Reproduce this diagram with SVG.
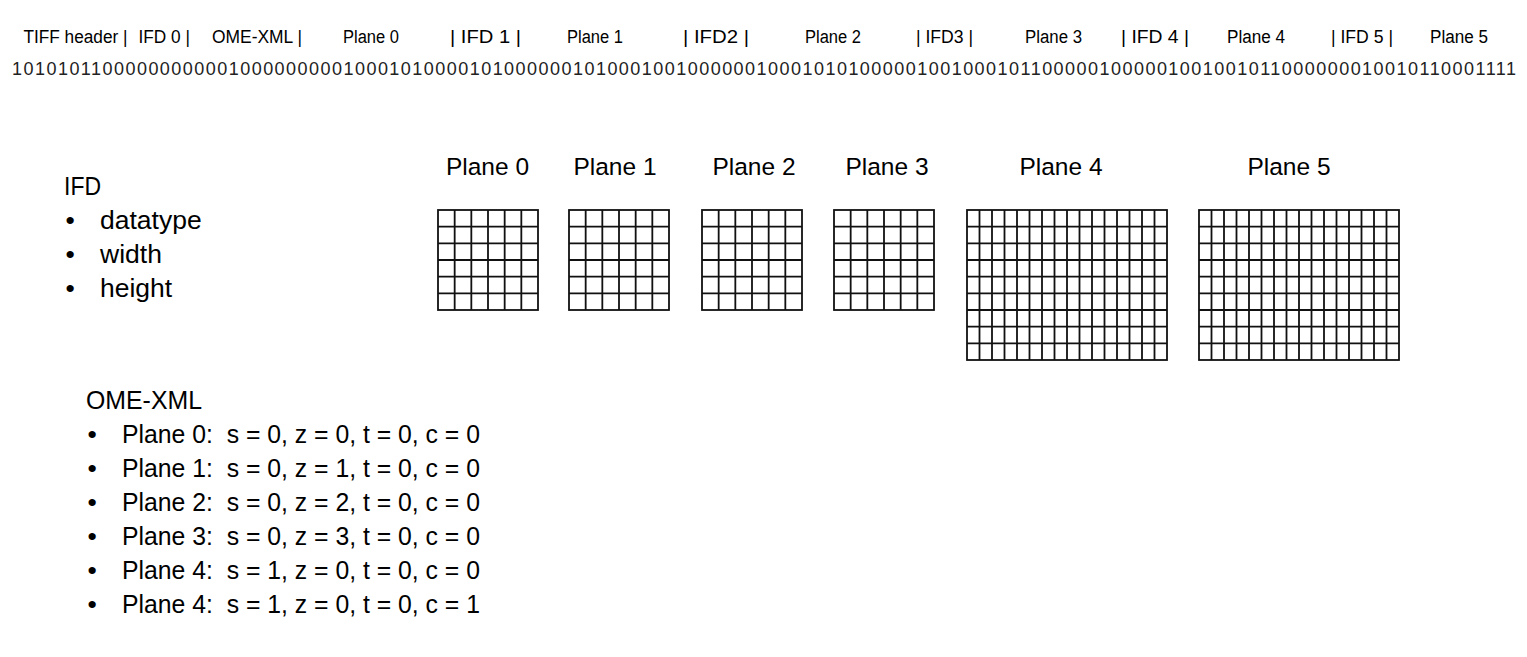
<svg xmlns="http://www.w3.org/2000/svg" xmlns:xlink="http://www.w3.org/1999/xlink" width="1527" height="657" viewBox="0 0 1527 657">
<style>
text{font-family:"Liberation Sans",Arial,sans-serif;fill:#000}
.hd{font-size:18px}
.bin{font-size:18px;fill:#222}
.title{font-size:24.5px;text-anchor:middle}
.lst{font-size:26.5px}
.grid{fill:none;stroke:#111;stroke-width:1.8}
</style>
<defs>
<g id="g6" class="grid">
<rect x="0" y="0" width="100" height="100"/>
<path d="M16.67 0V100M33.33 0V100M50 0V100M66.67 0V100M83.33 0V100M0 16.67H100M0 33.33H100M0 50H100M0 66.67H100M0 83.33H100"/>
</g>
<g id="g16" class="grid">
<rect x="0" y="0" width="200" height="150"/>
<path d="M12.5 0V150M25 0V150M37.5 0V150M50 0V150M62.5 0V150M75 0V150M87.5 0V150M100 0V150M112.5 0V150M125 0V150M137.5 0V150M150 0V150M162.5 0V150M175 0V150M187.5 0V150M0 16.67H200M0 33.33H200M0 50H200M0 66.67H200M0 83.33H200M0 100H200M0 116.67H200M0 133.33H200"/>
</g>
</defs>
<rect width="1527" height="657" fill="#fff"/>
<g id="header">
<text class="hd" x="23.5" y="43" textLength="104" lengthAdjust="spacingAndGlyphs">TIFF header |</text>
<text class="hd" x="138.5" y="43" textLength="51.5" lengthAdjust="spacingAndGlyphs">IFD 0 |</text>
<text class="hd" x="212" y="43" textLength="90" lengthAdjust="spacingAndGlyphs">OME-XML |</text>
<text class="hd" x="343" y="43" textLength="56" lengthAdjust="spacingAndGlyphs">Plane 0</text>
<text class="hd" x="450" y="43" textLength="71" lengthAdjust="spacingAndGlyphs">| IFD 1 |</text>
<text class="hd" x="567" y="43" textLength="56" lengthAdjust="spacingAndGlyphs">Plane 1</text>
<text class="hd" x="683" y="43" textLength="66" lengthAdjust="spacingAndGlyphs">| IFD2 |</text>
<text class="hd" x="805" y="43" textLength="56" lengthAdjust="spacingAndGlyphs">Plane 2</text>
<text class="hd" x="916" y="43" textLength="57" lengthAdjust="spacingAndGlyphs">| IFD3 |</text>
<text class="hd" x="1025" y="43" textLength="57" lengthAdjust="spacingAndGlyphs">Plane 3</text>
<text class="hd" x="1121" y="43" textLength="68" lengthAdjust="spacingAndGlyphs">| IFD 4 |</text>
<text class="hd" x="1227" y="43" textLength="58" lengthAdjust="spacingAndGlyphs">Plane 4</text>
<text class="hd" x="1331" y="43" textLength="62" lengthAdjust="spacingAndGlyphs">| IFD 5 |</text>
<text class="hd" x="1430" y="43" textLength="58" lengthAdjust="spacingAndGlyphs">Plane 5</text>
</g>
<g id="binary">
<text class="bin" x="12" y="75" textLength="1504" lengthAdjust="spacing">101010110000000000010000000001000101000010100000010100010010000001000101010000010010001011000001000001001001011000000010010110001111</text>
</g>
<g id="ifd-list">
<text class="lst" x="64" y="195" textLength="37" lengthAdjust="spacingAndGlyphs">IFD</text>
<text class="lst" x="65.5" y="229">•</text>
<text class="lst" x="100" y="229">datatype</text>
<text class="lst" x="65.5" y="263">•</text>
<text class="lst" x="100" y="263">width</text>
<text class="lst" x="65.5" y="297">•</text>
<text class="lst" x="100" y="297">height</text>
</g>
<g id="ome-list">
<text class="lst" x="86" y="409" textLength="116" lengthAdjust="spacingAndGlyphs">OME-XML</text>
<text class="lst" x="87.5" y="443">•</text>
<text class="lst" x="122" y="443" textLength="358" lengthAdjust="spacingAndGlyphs" xml:space="preserve">Plane 0:  s = 0, z = 0, t = 0, c = 0</text>
<text class="lst" x="87.5" y="477">•</text>
<text class="lst" x="122" y="477" textLength="358" lengthAdjust="spacingAndGlyphs" xml:space="preserve">Plane 1:  s = 0, z = 1, t = 0, c = 0</text>
<text class="lst" x="87.5" y="511">•</text>
<text class="lst" x="122" y="511" textLength="358" lengthAdjust="spacingAndGlyphs" xml:space="preserve">Plane 2:  s = 0, z = 2, t = 0, c = 0</text>
<text class="lst" x="87.5" y="545">•</text>
<text class="lst" x="122" y="545" textLength="358" lengthAdjust="spacingAndGlyphs" xml:space="preserve">Plane 3:  s = 0, z = 3, t = 0, c = 0</text>
<text class="lst" x="87.5" y="579">•</text>
<text class="lst" x="122" y="579" textLength="358" lengthAdjust="spacingAndGlyphs" xml:space="preserve">Plane 4:  s = 1, z = 0, t = 0, c = 0</text>
<text class="lst" x="87.5" y="613">•</text>
<text class="lst" x="122" y="613" textLength="358" lengthAdjust="spacingAndGlyphs" xml:space="preserve">Plane 4:  s = 1, z = 0, t = 0, c = 1</text>
</g>
<g id="plane0">
<text class="title" x="487.5" y="175">Plane 0</text>
<use xlink:href="#g6" href="#g6" x="438" y="210"/>
</g>
<g id="plane1">
<text class="title" x="615" y="175">Plane 1</text>
<use xlink:href="#g6" href="#g6" x="569" y="210"/>
</g>
<g id="plane2">
<text class="title" x="754" y="175">Plane 2</text>
<use xlink:href="#g6" href="#g6" x="702" y="210"/>
</g>
<g id="plane3">
<text class="title" x="887" y="175">Plane 3</text>
<use xlink:href="#g6" href="#g6" x="834" y="210"/>
</g>
<g id="plane4">
<text class="title" x="1061" y="175">Plane 4</text>
<use xlink:href="#g16" href="#g16" x="967" y="210"/>
</g>
<g id="plane5">
<text class="title" x="1289" y="175">Plane 5</text>
<use xlink:href="#g16" href="#g16" x="1199" y="210"/>
</g>
<g id="connectors"/>
</svg>
